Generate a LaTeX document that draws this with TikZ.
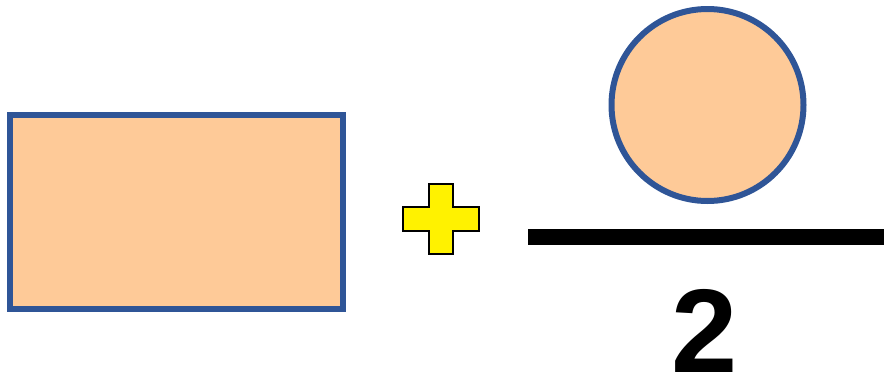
\documentclass[tikz,border=0pt]{standalone}
\usepackage{fontspec}
\setmainfont{Liberation Sans}
\definecolor{shapefill}{HTML}{FECA98}
\definecolor{shapeedge}{HTML}{2F5597}
\tikzset{
  shapestyle/.style={fill=shapefill, draw=shapeedge, line width=6pt},
  plusstyle/.style={fill=yellow, draw=black, line width=1.8pt, line join=miter},
  barstyle/.style={draw=black, line width=16pt},
}
\begin{document}
\begin{tikzpicture}[x=1pt,y=-1pt]
\useasboundingbox (0,0) rectangle (884,375);
\node[shapestyle, rectangle, minimum width=333pt, minimum height=194pt, inner sep=0pt, outer sep=0pt] (rect) at (176.5,212) {};
\node[shapestyle, circle, minimum size=192pt, inner sep=0pt, outer sep=0pt] (circ) at (707.5,105) {};
\draw[plusstyle] (429,184) -- (453,184) -- (453,207) -- (479,207) -- (479,231) -- (453,231) -- (453,254) -- (429,254) -- (429,231) -- (403,231) -- (403,207) -- (429,207) -- cycle;
\coordinate (barL) at (528,237);
\coordinate (barR) at (884,237);
\draw[barstyle] (barL) -- (barR);
\node[anchor=base, inner sep=0pt] (two) at (705,372) {\fontsize{119}{119}\selectfont\bfseries 2};
\end{tikzpicture}
\end{document}
